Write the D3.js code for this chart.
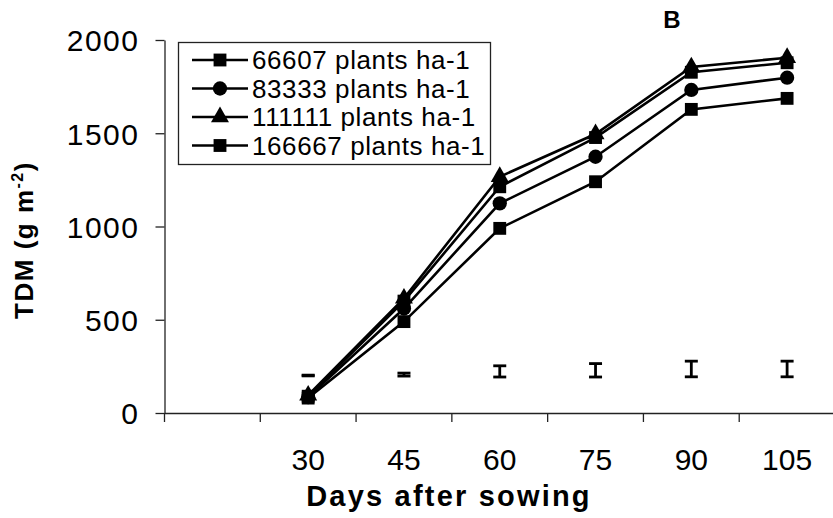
<!DOCTYPE html>
<html>
<head>
<meta charset="utf-8">
<script src="https://cdn.jsdelivr.net/npm/d3@7"></script>
<style>
  body { margin: 0; background: #fff; }
  svg text { font-family: Arial, "Liberation Sans", sans-serif; fill: #000; }
</style>
</head>
<body>
<div id="chart"></div>
<script>
// categories (first slot is an empty category, as in the original)
const days = ["", "30", "45", "60", "75", "90", "105"];

const series = [
  { name: "66607 plants ha-1",  shape: "square",   values: [null, 90, 600, 1213, 1477, 1827, 1878] },
  { name: "83333 plants ha-1",  shape: "circle",   values: [null, 85, 560, 1124, 1374, 1732, 1798] },
  { name: "111111 plants ha-1", shape: "triangle", values: [null, 95, 615, 1267, 1496, 1855, 1905] },
  { name: "166667 plants ha-1", shape: "square",   values: [null, 80, 490,  990, 1240, 1628, 1687] }
];

// LSD bars: centre and half length
const lsdMid  = [null, 201, 206, 223, 229, 236, 236];
const lsdHalf = [null, 2, 8, 30, 36, 42, 42];

const yTicks = [0, 500, 1000, 1500, 2000];

const width = 833, height = 518;
const margin = { top: 40, right: -2, bottom: 105, left: 164.5 };

const svg = d3.select('#chart').append('svg')
  .attr('width', width)
  .attr('height', height);

const x = d3.scaleBand()
  .domain(days)
  .range([margin.left, width - margin.right]);

const y = d3.scaleLinear()
  .domain([0, 2000])
  .range([height - margin.bottom, margin.top]);

const y0 = y(0);

// y axis
const yAxis = svg.append('g')
  .attr('transform', `translate(${margin.left},0)`)
  .call(d3.axisLeft(y).tickValues(yTicks).tickFormat(d3.format('d'))
    .tickSize(9).tickSizeOuter(0).tickPadding(16));
yAxis.selectAll('line, path').attr('stroke', '#222').attr('stroke-width', 1.3);
yAxis.selectAll('text').attr('font-size', 30).attr('dy', '0.36em').attr('letter-spacing', 1.5);

// x axis: Excel style ticks between categories
const xAxis = svg.append('g')
  .attr('transform', `translate(0,${y0})`)
  .call(d3.axisBottom(x).tickSize(0).tickPadding(36));
xAxis.select('.domain').attr('stroke', '#222').attr('stroke-width', 1.3);
xAxis.selectAll('text').attr('font-size', 30);

const bounds = days.map(d => x(d)).concat([x.range()[1]]);
xAxis.selectAll('line.between')
  .data(bounds)
  .enter().append('line')
  .attr('class', 'between')
  .attr('x1', d => d).attr('x2', d => d)
  .attr('y1', 0).attr('y2', 9)
  .attr('stroke', '#222').attr('stroke-width', 1.3);

// axis titles
svg.append('text')
  .attr('x', 449).attr('y', 506)
  .attr('text-anchor', 'middle')
  .attr('font-size', 29).attr('font-weight', 'bold').attr('letter-spacing', 2.2)
  .text('Days after sowing');

const yt = svg.append('text')
  .attr('transform', 'translate(33,240) rotate(-90)')
  .attr('text-anchor', 'middle')
  .attr('font-size', 26).attr('font-weight', 'bold').attr('letter-spacing', 1.5);
yt.append('tspan').text('TDM (g m');
yt.append('tspan').attr('font-size', 16).attr('dy', -10).text('-2');
yt.append('tspan').attr('dy', 10).text(')');

// panel letter
svg.append('text')
  .attr('x', 672).attr('y', 28)
  .attr('text-anchor', 'middle')
  .attr('font-size', 24).attr('font-weight', 'bold')
  .text('B');

const cx = d => x(d) + x.bandwidth() / 2;

// LSD bars
const lsd = svg.append('g').attr('class', 'lsd')
  .selectAll('g')
  .data(days.map((d, i) => ({ d, m: lsdMid[i], h: lsdHalf[i] })).filter(e => e.m != null))
  .enter().append('g')
  .attr('stroke', '#000').attr('stroke-width', 2.8);
lsd.append('line')
  .attr('x1', e => cx(e.d)).attr('x2', e => cx(e.d))
  .attr('y1', e => y(e.m + e.h)).attr('y2', e => y(e.m - e.h));
lsd.append('line')
  .attr('x1', e => cx(e.d) - 6.5).attr('x2', e => cx(e.d) + 6.5)
  .attr('y1', e => y(e.m + e.h)).attr('y2', e => y(e.m + e.h));
lsd.append('line')
  .attr('x1', e => cx(e.d) - 6.5).attr('x2', e => cx(e.d) + 6.5)
  .attr('y1', e => y(e.m - e.h)).attr('y2', e => y(e.m - e.h));

const symbols = {
  square: d3.symbol().type(d3.symbolSquare).size(165),
  circle: d3.symbol().type(d3.symbolCircle).size(160),
  triangle: d3.symbol().type(d3.symbolTriangle).size(140)
};

const line = d3.line()
  .defined(v => v.v != null)
  .x(v => cx(v.d))
  .y(v => y(v.v));

const plot = svg.append('g').attr('class', 'series');
series.forEach(s => {
  const pts = days.map((d, i) => ({ d, v: s.values[i] }));
  plot.append('path')
    .datum(pts)
    .attr('fill', 'none')
    .attr('stroke', '#000')
    .attr('stroke-width', 2.6)
    .attr('d', line);
  plot.selectAll(null)
    .data(pts.filter(p => p.v != null))
    .enter().append('path')
    .attr('transform', p => `translate(${cx(p.d)},${y(p.v)})`)
    .attr('d', symbols[s.shape]())
    .attr('fill', '#000');
});

// legend
const legend = svg.append('g').attr('class', 'legend');
legend.append('rect')
  .attr('x', 178.5).attr('y', 42.5)
  .attr('width', 312).attr('height', 122)
  .attr('fill', '#fff').attr('stroke', '#222').attr('stroke-width', 1.3);

const rows = legend.selectAll('g.row')
  .data(series)
  .enter().append('g')
  .attr('class', 'row')
  .attr('transform', (s, i) => `translate(0,${60 + i * 28.5})`);
rows.append('line')
  .attr('x1', 192).attr('x2', 248)
  .attr('y1', 0).attr('y2', 0)
  .attr('stroke', '#000').attr('stroke-width', 2.6);
rows.append('path')
  .attr('transform', 'translate(220,0)')
  .attr('d', s => symbols[s.shape]())
  .attr('fill', '#000');
rows.append('text')
  .attr('x', 252).attr('dy', '0.36em')
  .attr('font-size', 26).attr('letter-spacing', 0.6)
  .attr('fill', '#222')
  .text(s => s.name);
</script>
</body>
</html>
